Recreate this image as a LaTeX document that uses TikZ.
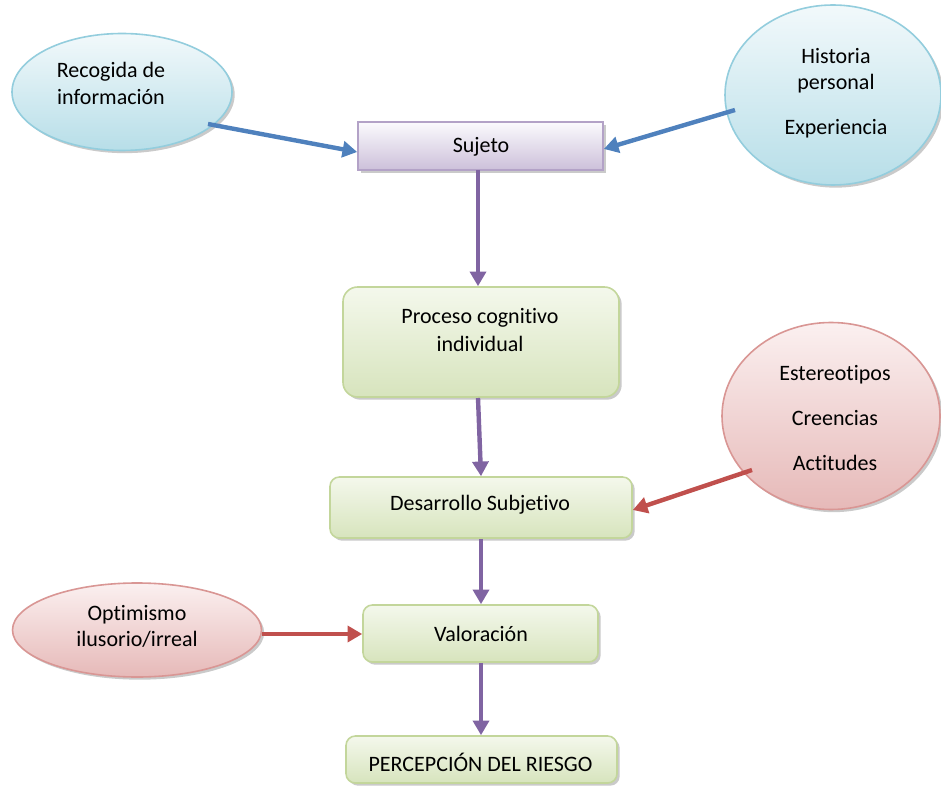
\documentclass[tikz,border=0pt]{standalone}
\usepackage{fontspec}
\setmainfont{Carlito}[Ligatures=NoCommon]
\usetikzlibrary{shapes.geometric,arrows.meta,shadows}

% Palette
\definecolor{blueedge}{HTML}{93CDDD}
\definecolor{bluetop}{HTML}{F2F9FB}
\definecolor{bluebot}{HTML}{B7DEE8}
\definecolor{redEdge}{HTML}{D99694}
\definecolor{redtop}{HTML}{FBF0F0}
\definecolor{redbot}{HTML}{E6B9B8}
\definecolor{greenedge}{HTML}{C3D69B}
\definecolor{greentop}{HTML}{F4F8EC}
\definecolor{greenbot}{HTML}{D7E4BD}
\definecolor{lilacedge}{HTML}{B3A2C7}
\definecolor{lilactop}{HTML}{FBFAFD}
\definecolor{lilacbot}{HTML}{CCC0DA}
\definecolor{bluearrow}{HTML}{4F81BD}
\definecolor{purplearrow}{HTML}{8064A2}
\definecolor{redarrow}{HTML}{C0504D}

\tikzset{
  shade/.style={drop shadow={shadow xshift=2pt,shadow yshift=-2pt,opacity=0.35,fill=black!60}},
  bluebubble/.style={ellipse,draw=blueedge,line width=1.2pt,shading=axis,
    top color=bluetop,bottom color=bluebot,inner sep=0pt,shade},
  redbubble/.style={ellipse,draw=redEdge,line width=1.2pt,shading=axis,
    top color=redtop,bottom color=redbot,inner sep=0pt,shade},
  greenbox/.style={rectangle,rounded corners=7pt,draw=greenedge,line width=1.2pt,
    shading=axis,top color=greentop,bottom color=greenbot,inner sep=0pt,shade},
  lilacbox/.style={rectangle,draw=lilacedge,line width=1.2pt,shading=axis,
    top color=lilactop,bottom color=lilacbot,inner sep=0pt,shade},
  label/.style={font=\fontsize{16.5}{20}\selectfont,align=center,inner sep=0pt},
  flow/.style={line width=3.3pt,-{Triangle[length=11pt,width=12pt]}},
}

\begin{document}
\begin{tikzpicture}[x=0.75pt,y=-0.75pt]
  \useasboundingbox (0,0) rectangle (941,787);

  % Shapes
  \node[bluebubble,minimum width=165pt,minimum height=87.75pt] (rec) at (122,92) {};
  \node[bluebubble,minimum width=162pt,minimum height=135pt] (his) at (833,95) {};
  \node[redbubble,minimum width=163.5pt,minimum height=140.25pt] (est) at (831,416) {};
  \node[redbubble,minimum width=186.75pt,minimum height=70.5pt] (opt) at (137,630) {};

  \node[lilacbox,minimum width=183.75pt,minimum height=36pt] (suj) at (480.5,146) {};
  \node[greenbox,rounded corners=11pt,minimum width=207pt,minimum height=82.5pt] (pro) at (481,342) {};
  \node[greenbox,minimum width=226.5pt,minimum height=45.75pt] (des) at (481,507.5) {};
  \node[greenbox,minimum width=176.25pt,minimum height=42.75pt] (val) at (480.5,633.5) {};
  \node[greenbox,minimum width=203.25pt,minimum height=35.25pt] (per) at (481.5,759.5) {};

  % Texts
  \node[label,font=\fontsize{16.5}{20.25}\selectfont] (recT) at (111,83.5) {Recogida de\\información};
  \node[label,font=\fontsize{16.5}{19.5}\selectfont] (hisT) at (836,93.5) {Historia\\personal\\[14.25pt]Experiencia};
  \node[label,font=\fontsize{16.5}{33.75}\selectfont] (estT) at (835,418.5) {Estereotipos\\Creencias\\Actitudes};
  \node[label,font=\fontsize{16.5}{19.5}\selectfont] (optT) at (137,626.5) {Optimismo\\ilusorio/irreal};
  \node[label] (sujT) at (481,147) {Sujeto};
  \node[label,font=\fontsize{16.5}{21}\selectfont] (proT) at (480,330.5) {Proceso cognitivo\\individual};
  \node[label] (desT) at (480,505) {Desarrollo Subjetivo};
  \node[label] (valT) at (481,634) {Valoración};
  \node[label] (perT) at (480.5,762) {PERCEPCIÓN DEL RIESGO};

  % Anchor points of the connectors
  \coordinate (recOut) at (208,124);
  \coordinate (hisOut) at (735,110);
  \coordinate (estOut) at (752,470);
  \coordinate (optOut) at (opt.east);

  % Connectors
  \draw[flow,bluearrow] (recOut) -- (suj.west |- 0,152);
  \draw[flow,bluearrow] (hisOut) -- (suj.east |- 0,149);
  \draw[flow,purplearrow] (478,170) -- (pro.north -| 478,0);
  \draw[flow,purplearrow] (478,398) -- (des.north -| 481,0);
  \draw[flow,redarrow] (estOut) -- (des.east |- 0,510);
  \draw[flow,purplearrow] (des.south -| 481,0) -- (val.north -| 481,0);
  \draw[flow,redarrow] (optOut |- 0,634) -- (val.west |- 0,634);
  \draw[flow,purplearrow] (val.south -| 481,0) -- (per.north -| 481,0);
\end{tikzpicture}
\end{document}
